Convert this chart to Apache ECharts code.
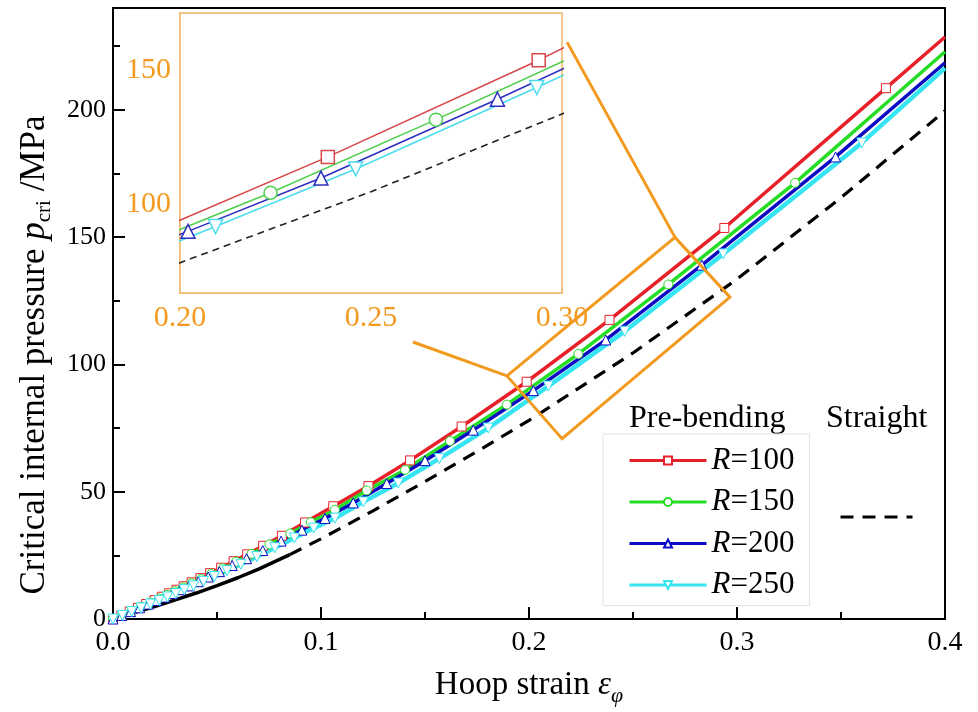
<!DOCTYPE html>
<html>
<head>
<meta charset="utf-8">
<script src="https://cdn.jsdelivr.net/npm/echarts@6/dist/echarts.min.js"></script>
<style>
  html, body { margin: 0; padding: 0; background: #fff; }
  #mainChart { width: 978px; height: 712px; }
</style>
</head>
<body>
<div id="mainChart"></div>
<script>
// hoop strain / critical pressure
var strainR100 = [0, 0.004, 0.008, 0.012, 0.016, 0.02, 0.0235, 0.027, 0.0305, 0.034, 0.0378, 0.042, 0.0467, 0.052, 0.058, 0.0645, 0.0722, 0.0812, 0.0923, 0.1059, 0.1228, 0.1428, 0.1676, 0.1989, 0.2387, 0.2939, 0.3716, 0.4];
var pressR100  = [0, 1.45, 2.9, 4.4, 5.9, 7.4, 8.75, 10.1, 11.5, 12.85, 14.4, 16.05, 18.0, 20.15, 22.7, 25.4, 28.75, 32.7, 37.9, 44.3, 52.2, 62.3, 75.6, 93.2, 117.5, 153.6, 208.5, 228.6];

var strainR150 = [0, 0.0045, 0.009, 0.0135, 0.018, 0.0222, 0.026, 0.0298, 0.0337, 0.0378, 0.0422, 0.0472, 0.0528, 0.0592, 0.0666, 0.0752, 0.0852, 0.0951, 0.1067, 0.122, 0.1404, 0.162, 0.1893, 0.2237, 0.267, 0.3279, 0.4];
var pressR150  = [0, 1.6, 3.2, 4.8, 6.5, 8.0, 9.45, 10.9, 12.4, 14.0, 15.7, 17.7, 19.9, 22.5, 25.6, 29.3, 33.6, 38.0, 42.9, 50.5, 58.6, 69.9, 84.2, 104.1, 131.4, 171.3, 222.8];

var strainR200 = [0, 0.0042, 0.0085, 0.0128, 0.017, 0.021, 0.0248, 0.0286, 0.0325, 0.0366, 0.041, 0.0458, 0.0512, 0.0573, 0.0642, 0.072, 0.0808, 0.0908, 0.1019, 0.1155, 0.1316, 0.15, 0.1732, 0.2021, 0.2369, 0.2831, 0.3474, 0.4];
var pressR200  = [0, 1.4, 2.9, 4.4, 5.85, 7.3, 8.6, 10.0, 11.5, 13.0, 14.65, 16.5, 18.6, 21.0, 23.7, 26.9, 30.6, 34.9, 39.5, 45.6, 53.2, 62.2, 74.2, 89.7, 109.6, 139.0, 181.5, 218.5];

var strainR250 = [0, 0.0045, 0.009, 0.0135, 0.018, 0.0222, 0.0262, 0.0302, 0.0343, 0.0387, 0.0435, 0.0488, 0.0548, 0.0615, 0.0692, 0.0778, 0.0872, 0.0965, 0.1067, 0.1204, 0.1372, 0.1569, 0.1804, 0.2093, 0.246, 0.2934, 0.36, 0.4];
var pressR250  = [0, 1.4, 2.9, 4.35, 5.85, 7.3, 8.65, 10.0, 11.5, 13.0, 14.8, 16.7, 19.0, 21.5, 24.5, 28.0, 31.8, 35.7, 39.6, 46.0, 53.4, 63.0, 75.0, 91.5, 113.0, 143.4, 187.0, 216.4];

var strainStraight = [0, 0.01, 0.02, 0.03, 0.04, 0.05, 0.06, 0.07, 0.085, 0.1, 0.125, 0.15, 0.175, 0.2, 0.25, 0.3, 0.35, 0.4];
var pressStraight  = [0, 2.4, 4.9, 7.5, 10.2, 13.1, 16.2, 19.6, 25.3, 31.5, 42.5, 54.0, 65.8, 78.0, 104.5, 133.5, 165.5, 199.6];
var solidEnd = 8; // straight curve is solid up to this index, dashed after

var legendNames = ['R=100', 'R=150', 'R=200', 'R=250'];

var mainYLabels = [0, 50, 100, 150, 200];
var mainYMinor = [25, 75, 125, 175, 225];
var insetYLabels = [100, 150];
var insetYTicks = [75, 100, 125, 150];

// zoom window drawn on the main axes (data coords) and its two leader lines
var zoomBoxX = [0.1894, 0.2702, 0.2966, 0.2159, 0.1894];
var zoomBoxY = [95.5, 149.9, 126.4, 70.8, 95.5];
var leader1X = [0.1442, 0.1894], leader1Y = [108.8, 95.5];
var leader2X = [0.2183, 0.2702], leader2Y = [226.6, 149.9];

var FONT = 'Liberation Serif';
var ORANGE = '#f29a1f';
var ORANGE_LT = '#f2b468';

function pts(xs, ys, lastBare) {
	var a = [];
	for (var i = 0; i < xs.length; i++) {
		if (lastBare && i == xs.length - 1) {
			a.push({ value: [xs[i], ys[i]], symbol: 'none' });
		} else {
			a.push([xs[i], ys[i]]);
		}
	}
	return a;
}

var dom = document.getElementById('mainChart');
var myChart = echarts.init(dom, null, { renderer: 'canvas' });

var curves = [
	{ name: 'R=100', xs: strainR100, ys: pressR100, color: '#e8202a', inColor: '#d84848', symbol: 'rect', size: 9, inSize: 13, w: 3.5 },
	{ name: 'R=150', xs: strainR150, ys: pressR150, color: '#26dd26', inColor: '#4fd04f', symbol: 'circle', size: 9, inSize: 13, w: 3.5 },
	{ name: 'R=200', xs: strainR200, ys: pressR200, color: '#0b0bc4', inColor: '#2e2ec0', symbol: 'triangle', size: 10, inSize: 14, w: 3.5 },
	{ name: 'R=250', xs: strainR250, ys: pressR250, color: '#36e4f2', inColor: '#4cdcec', symbol: 'triangle', size: 10, inSize: 14, w: 4.5, rot: 180 }
];

var series = [];
curves.forEach(function (c) {
	series.push({
		name: c.name, type: 'line', xAxisIndex: 0, yAxisIndex: 0,
		data: pts(c.xs, c.ys, true),
		symbol: c.symbol, symbolSize: c.size, symbolRotate: c.rot || 0,
		lineStyle: { color: c.color, width: c.w },
		itemStyle: { color: '#fff', borderColor: c.color, borderWidth: 1 },
		z: 3
	});
});
series.push({
	name: 'Straight', type: 'line', xAxisIndex: 0, yAxisIndex: 0,
	data: pts(strainStraight.slice(solidEnd), pressStraight.slice(solidEnd)),
	symbol: 'none',
	lineStyle: { color: '#000', width: 3.2, type: [13, 9] },
	itemStyle: { color: '#000' },
	z: 2
});
series.push({
	name: 'Straight (solid)', type: 'line', xAxisIndex: 0, yAxisIndex: 0,
	data: pts(strainStraight.slice(0, solidEnd + 1), pressStraight.slice(0, solidEnd + 1)),
	symbol: 'none',
	lineStyle: { color: '#000', width: 3.5 },
	z: 2
});
// inset copies
curves.forEach(function (c) {
	series.push({
		name: c.name + ' inset', type: 'line', xAxisIndex: 1, yAxisIndex: 2,
		data: pts(c.xs, c.ys, true),
		symbol: c.symbol, symbolSize: c.inSize, symbolRotate: c.rot || 0,
		lineStyle: { color: c.inColor, width: 1.6 },
		itemStyle: { color: '#fff', borderColor: c.inColor, borderWidth: 1.5 },
		clip: true, z: 5
	});
});
series.push({
	name: 'Straight inset', type: 'line', xAxisIndex: 1, yAxisIndex: 2,
	data: pts(strainStraight, pressStraight),
	symbol: 'none',
	lineStyle: { color: '#222', width: 1.6, type: [7, 5] },
	clip: true, z: 5
});
// zoom annotation
[[zoomBoxX, zoomBoxY], [leader1X, leader1Y], [leader2X, leader2Y]].forEach(function (p, i) {
	series.push({
		name: 'zoom' + i, type: 'line', xAxisIndex: 0, yAxisIndex: 0,
		data: pts(p[0], p[1]), symbol: 'none', silent: true, clip: false,
		lineStyle: { color: ORANGE, width: 3, join: 'miter' },
		z: 10
	});
});

option = {
	animation: false,
	backgroundColor: '#fff',
	textStyle: { fontFamily: FONT },
	grid: [
		{ left: 113, top: 8, right: 33, bottom: 91, show: true, borderColor: '#000', borderWidth: 2, backgroundColor: 'transparent' },
		{ left: 180, top: 13, width: 382, height: 280, show: true, borderColor: ORANGE_LT, borderWidth: 1.5, backgroundColor: '#fff', z: 4 }
	],
	xAxis: [{
		gridIndex: 0, type: 'value', min: 0, max: 0.4, interval: 0.1,
		axisLine: { lineStyle: { color: '#000', width: 2 } },
		axisTick: { inside: true, length: 12, lineStyle: { color: '#000', width: 2 } },
		minorTick: { show: true, splitNumber: 2, length: 7, lineStyle: { color: '#000', width: 2 } },
		splitLine: { show: false },
		axisLabel: { color: '#000', fontSize: 28, fontFamily: FONT, margin: 10, formatter: function (v) { return v.toFixed(1); } },
		name: '{t|Hoop strain }{e|ε}{s|φ}', nameLocation: 'middle', nameGap: 44,
		nameTextStyle: {
			color: '#000', fontFamily: FONT, fontSize: 33,
			rich: {
				t: { fontFamily: FONT, fontSize: 33, lineHeight: 44 },
				e: { fontFamily: FONT, fontSize: 33, fontStyle: 'italic', lineHeight: 44 },
				s: { fontFamily: FONT, fontSize: 22, fontStyle: 'italic', padding: [22, 0, 0, 0] }
			}
		}
	}, {
		gridIndex: 1, type: 'value', min: 0.2, max: 0.3, interval: 0.05,
		axisLine: { lineStyle: { color: ORANGE_LT, width: 1.5 } },
		axisTick: { inside: true, length: 5, lineStyle: { color: ORANGE_LT, width: 1 } },
		minorTick: { show: true, splitNumber: 2, length: 4, lineStyle: { color: ORANGE_LT, width: 1 } },
		splitLine: { show: false },
		axisLabel: { color: ORANGE, fontSize: 30, fontFamily: FONT, margin: 10, formatter: function (v) { return v.toFixed(2); } }
	}],
	yAxis: [{
		gridIndex: 0, type: 'value', min: 0, max: 240, position: 'left',
		axisLine: { lineStyle: { color: '#000', width: 2 } },
		axisTick: { inside: true, length: 12, customValues: mainYLabels, lineStyle: { color: '#000', width: 2 } },
		splitLine: { show: false },
		axisLabel: { color: '#000', fontSize: 26, fontFamily: FONT, margin: 7, customValues: mainYLabels },
		name: '{t|Critical internal pressure }{p|p}{s|cri}{t| /MPa}', nameLocation: 'middle', nameGap: 57, nameRotate: 90,
		nameTextStyle: {
			color: '#000', fontFamily: FONT, fontSize: 35, padding: [0, 83, 0, 0],
			rich: {
				t: { fontFamily: FONT, fontSize: 35, lineHeight: 42 },
				p: { fontFamily: FONT, fontSize: 35, fontStyle: 'italic', lineHeight: 42 },
				s: { fontFamily: FONT, fontSize: 21, padding: [18, 0, 0, 0] }
			}
		}
	}, {
		gridIndex: 0, type: 'value', min: 0, max: 240, position: 'left',
		axisLine: { show: false },
		axisTick: { inside: true, length: 7, customValues: mainYMinor, lineStyle: { color: '#000', width: 2 } },
		splitLine: { show: false },
		axisLabel: { show: false }
	}, {
		gridIndex: 1, type: 'value', min: 66.7, max: 171.2,
		axisLine: { lineStyle: { color: ORANGE_LT, width: 1.5 } },
		axisTick: { inside: true, length: 5, customValues: insetYTicks, lineStyle: { color: ORANGE_LT, width: 1 } },
		splitLine: { show: false },
		axisLabel: { color: ORANGE, fontSize: 30, fontFamily: FONT, margin: 9, customValues: insetYLabels }
	}],
	legend: [{
		data: legendNames, orient: 'vertical', left: 603, top: 434,
		padding: [11, 15, 5, 25], itemGap: 10.5, itemWidth: 77, itemHeight: 10,
		borderColor: '#e2e2e2', borderWidth: 1, backgroundColor: '#fff',
		lineStyle: { width: 3 },
		formatter: function (name) { return '{i|R}' + name.slice(1); },
		textStyle: {
			color: '#000', fontFamily: FONT, fontSize: 31, lineHeight: 30,
			rich: { i: { fontFamily: FONT, fontSize: 31, fontStyle: 'italic', lineHeight: 30 } }
		},
		selectedMode: false
	}, {
		data: ['Straight'], orient: 'vertical', left: 839, top: 512,
		itemWidth: 72, itemHeight: 10, padding: 0,
		lineStyle: { width: 3 },
		formatter: function () { return ''; },
		itemStyle: { color: 'rgba(0,0,0,0)', borderColor: 'rgba(0,0,0,0)', borderWidth: 0 },
		selectedMode: false
	}],
	graphic: [
		{ type: 'text', left: 629, top: 403, style: { text: 'Pre-bending', font: '32px "Liberation Serif"', fill: '#000' } },
		{ type: 'text', left: 826, top: 403, style: { text: 'Straight', font: '32px "Liberation Serif"', fill: '#000' } }
	],
	series: series
};

if (option && typeof option === 'object') {
	myChart.setOption(option, true);
}
</script>
</body>
</html>
